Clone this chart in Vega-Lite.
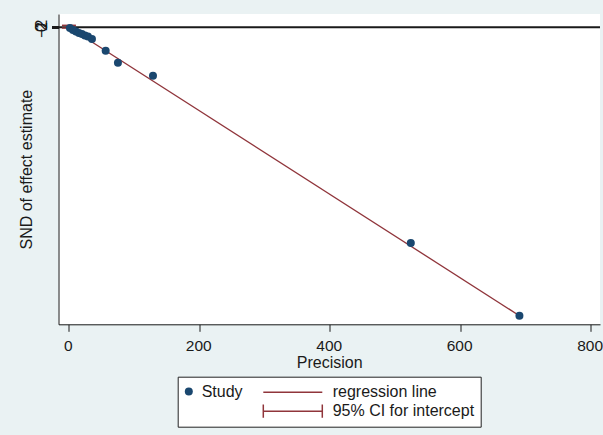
{
  "$schema": "https://vega.github.io/schema/vega-lite/v6.json",
  "width": 541.5,
  "height": 310.3,
  "autosize": {"type": "none"},
  "padding": {"left": 58.5, "top": 14, "right": 3, "bottom": 110.7},
  "background": "#eaf2f3",
  "config": {
    "view": {"fill": "#ffffff", "stroke": null},
    "font": "Liberation Sans",
    "axis": {
      "domainColor": "#1a1a1a", "tickColor": "#1a1a1a", "labelColor": "#1a1a1a", "titleColor": "#1a1a1a",
      "labelFontSize": 16, "titleFontSize": 16, "titleFontWeight": "normal", "grid": false, "tickSize": 7,
      "labelFont": "Liberation Sans", "titleFont": "Liberation Sans", "labelFlush": false, "labelOverlap": false
    },
    "legend": {"labelFont": "Liberation Sans", "titleFont": "Liberation Sans"}
  },
  "datasets": {
    "studies": [
      {"precision": 1.5, "snd": -1.5, "series": "Study"},
      {"precision": 6.1, "snd": -4.9, "series": "Study"},
      {"precision": 10.7, "snd": -7.4, "series": "Study"},
      {"precision": 15.3, "snd": -9.9, "series": "Study"},
      {"precision": 19.9, "snd": -11.6, "series": "Study"},
      {"precision": 24.5, "snd": -14.1, "series": "Study"},
      {"precision": 29.1, "snd": -15.8, "series": "Study"},
      {"precision": 35.3, "snd": -20.0, "series": "Study"},
      {"precision": 56.3, "snd": -39.6, "series": "Study"},
      {"precision": 75.1, "snd": -59.7, "series": "Study"},
      {"precision": 128.8, "snd": -81.5, "series": "Study"},
      {"precision": 524.0, "snd": -361.7, "series": "Study"},
      {"precision": 690.5, "snd": -483.6, "series": "Study"}
    ],
    "regline": [
      {"precision": 0, "snd": -0.3, "series": "regression line"},
      {"precision": 690.5, "snd": -483.6, "series": "regression line"}
    ],
    "ci": [
      {"precision": 0, "snd": -1.5, "snd_hi": 3.0, "series": "95% CI for intercept"}
    ],
    "caps": [
      {"precision": 0, "snd": -1.5},
      {"precision": 0, "snd": 3.0}
    ],
    "zero": [
      {"precision": -16, "precision2": 814, "snd": 0}
    ]
  },
  "encoding": {
    "x": {
      "field": "precision", "type": "quantitative",
      "scale": {"domain": [-16, 814], "nice": false, "zero": false},
      "axis": {"values": [0, 200, 400, 600, 800], "title": "Precision", "labelBaseline": "alphabetic", "labelPadding": 19.2,
               "labelFontSize": 15.5, "labelOffset": -1.2,
               "titleBaseline": "alphabetic", "titleY": 43.2, "titleX": 270.75}
    },
    "y": {
      "field": "snd", "type": "quantitative",
      "scale": {"domain": [-498, 22], "nice": false, "zero": false},
      "axis": {"values": [-2, 0, 2], "title": "SND of effect estimate", "labelAngle": 270, "labelAlign": "center",
               "labelBaseline": "alphabetic", "labelPadding": 5.5, "titleAngle": 270, "titleAlign": "center",
               "titleBaseline": "alphabetic", "titleX": -27, "titleY": 155.15}
    }
  },
  "layer": [
    {
      "data": {"name": "zero"},
      "mark": {"type": "rule", "color": "#1a1a1a", "strokeWidth": 2},
      "encoding": {"x2": {"field": "precision2"}}
    },
    {
      "data": {"name": "regline"},
      "mark": {"type": "line", "strokeWidth": 1.3},
      "encoding": {
        "stroke": {
          "field": "series", "type": "nominal",
          "scale": {"domain": ["regression line", "95% CI for intercept"], "range": ["#90353b", "#90353b"]},
          "legend": {
            "orient": "none", "legendX": 119.2, "legendY": 362.7, "direction": "vertical", "title": null,
            "padding": 6, "fillColor": "#ffffff", "strokeColor": "#222222",
            "symbolSize": 3481, "symbolStrokeWidth": 1.5, "clipHeight": 19, "rowPadding": 0,
            "symbolOffset": 78.6, "labelOffset": 9.4,
            "labelFontSize": 16, "labelColor": "#1a1a1a", "labelLimit": 300, "zindex": 1,
            "encode": {"symbols": {"update": {"shape": {"signal": "datum.value === '95% CI for intercept' ? 'M-1,0H1M-1,-0.225V0.225M1,-0.225V0.225' : 'M-1,0H1'"}}}}
          }
        }
      }
    },
    {
      "data": {"name": "ci"},
      "mark": {"type": "rule", "strokeWidth": 1.5},
      "encoding": {
        "y2": {"field": "snd_hi"},
        "stroke": {"field": "series", "type": "nominal"}
      }
    },
    {
      "data": {"name": "caps"},
      "mark": {"type": "tick", "orient": "horizontal", "size": 14, "thickness": 1.5, "color": "#90353b", "opacity": 1},
      "encoding": {}
    },
    {
      "data": {"name": "studies"},
      "mark": {"type": "point", "filled": true, "size": 64, "opacity": 1},
      "encoding": {
        "color": {
          "field": "series", "type": "nominal",
          "scale": {"domain": ["Study"], "range": ["#1a476f"]},
          "legend": {
            "orient": "none", "legendX": 122.3, "legendY": 368.0, "title": null,
            "padding": 0, "symbolSize": 64, "symbolType": "circle", "symbolStrokeWidth": 0,
            "clipHeight": 19, "labelOffset": 4.9, "labelFontSize": 16, "labelColor": "#1a1a1a", "zindex": 2
          }
        }
      }
    }
  ]
}
